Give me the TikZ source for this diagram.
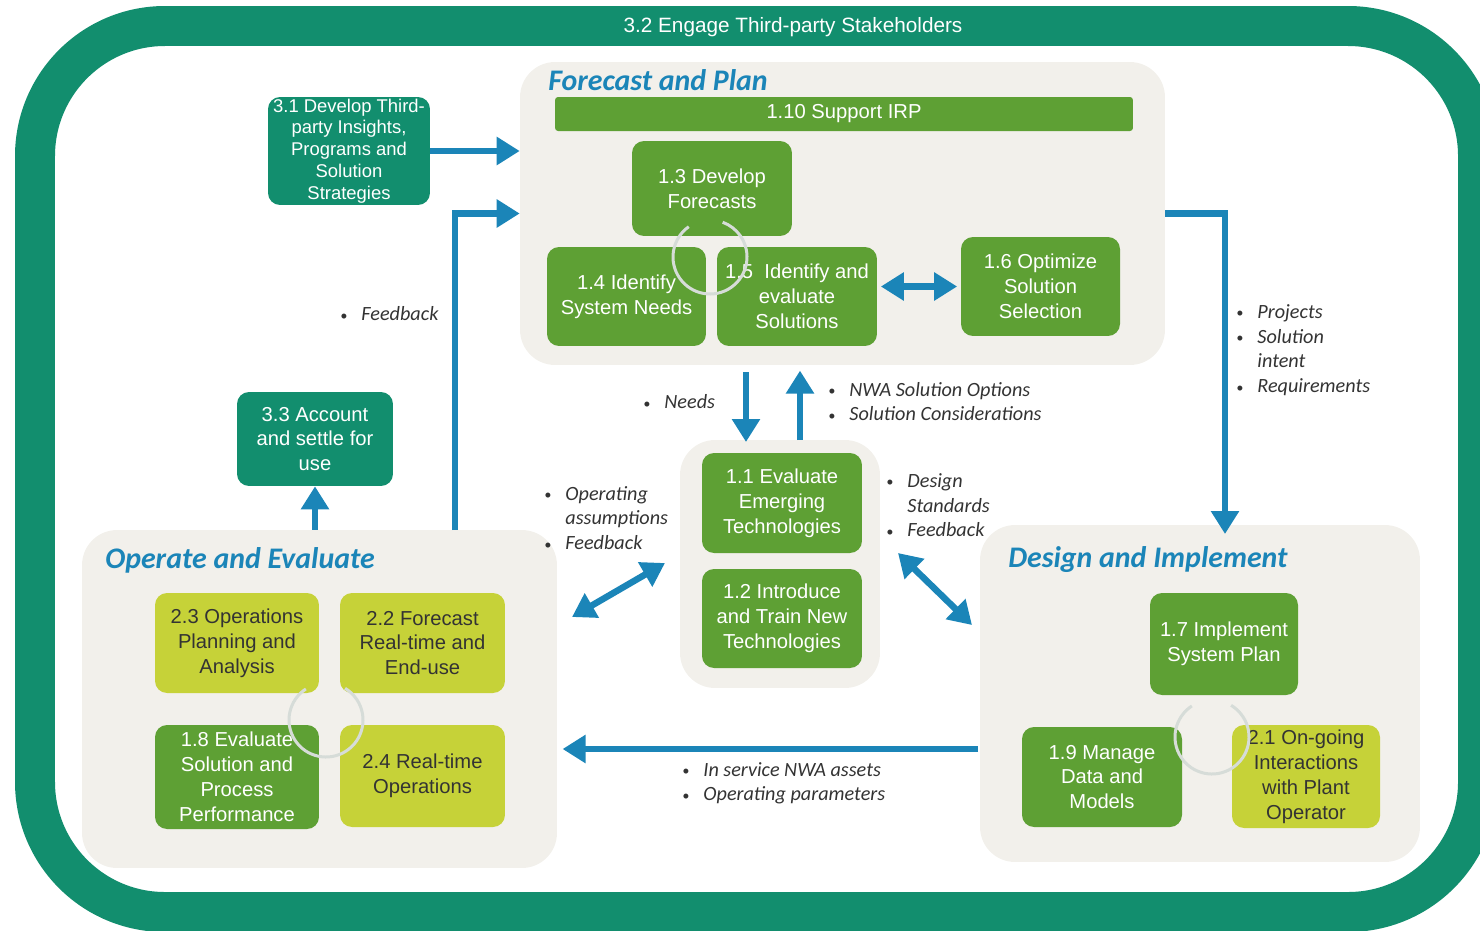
\documentclass[tikz,border=0pt]{standalone}
\usepackage{fontspec}
\setmainfont{Liberation Sans}
\newfontfamily\notefont{Carlito}
\usepackage{tikz}
\usetikzlibrary{arrows.meta}

\definecolor{staketeal}{RGB}{18,142,110}
\definecolor{taskgreen}{RGB}{94,160,52}
\definecolor{tasklime}{RGB}{198,210,56}
\definecolor{flowblue}{RGB}{27,133,184}
\definecolor{panelgray}{RGB}{242,240,235}
\definecolor{notegray}{RGB}{51,51,51}
\definecolor{ringgray}{RGB}{214,220,216}

\newcommand{\dotmark}{\raisebox{0.5pt}{\fontsize{8}{8}\selectfont\textbullet}}

\begin{document}
\begin{tikzpicture}[x = 0.02cm, y = -0.02cm,
		>={Triangle[length = 0.46cm, width = 0.54cm]},
		panel/.style = {fill = panelgray, rounded corners = 0.7cm, inner sep = 0pt},
		size/.style 2 args = {minimum width = #1cm, minimum height = #2cm},
		task/.style = {fill = taskgreen, text = white, rounded corners = 0.24cm, align = center, inner sep = 0pt, font = \fontsize{11.5}{14.2}\selectfont},
		lime/.style = {task, fill = tasklime, text = notegray},
		third/.style = {task, fill = staketeal},
		flow/.style = {draw = flowblue, line width = 0.13cm},
		cycle/.style = {draw = ringgray, line width = 0.06cm},
		note/.style = {text = notegray, inner sep = 0pt, font = \notefont\itshape\fontsize{11.5}{14.2}\selectfont},
		heading/.style = {text = flowblue, anchor = west, inner sep = 0pt, font = \notefont\bfseries\itshape\fontsize{17}{20}\selectfont}
	]
		
		\useasboundingbox (0, 0) rectangle (1480, 930);
		
		\draw[staketeal, line width = 0.8cm, rounded corners = 2.6cm] (35, 26) rectangle (1478, 912);
		\node[text = white, font = \fontsize{11.8}{14}\selectfont] (engage) at (793, 27) {3.2 Engage Third-party Stakeholders};
		
		\node[panel, size = {12.9}{6.06}] (plan) at (842.5, 213.5) {};
		\node[panel, size = {4}{4.96}] (centre) at (780, 564) {};
		\node[panel, size = {9.5}{6.76}] (operate) at (319.5, 699) {};
		\node[panel, size = {8.8}{6.74}] (design) at (1200, 693.5) {};
		
		\node[heading] (plantitle) at (548, 80) {Forecast and Plan};
		\node[heading] (operatetitle) at (105, 560) {Operate and Evaluate};
		\node[heading] (designtitle) at (1008, 560) {Design and Implement};
		
		\node[task, size = {11.56}{0.68}, rounded corners = 0.06cm] (irp) at (844, 114) {1.10 Support IRP};
		\node[task, size = {3.2}{1.9}] (forecasts) at (712, 188.5) {1.3 Develop\\Forecasts};
		\node[task, size = {3.18}{1.98}] (needs) at (626.5, 296.5) {1.4 Identify\\System Needs};
		\node[task, size = {3.2}{1.98}] (solutions) at (797, 296.5) {1.5\ \ Identify and\\evaluate\\Solutions};
		\node[task, size = {3.18}{1.98}] (optimize) at (1040.5, 286.5) {1.6 Optimize\\Solution\\Selection};
		
		\node[third, size = {3.24}{2.16}, font = \fontsize{10.5}{12.4}\selectfont] (insights) at (349, 151) {3.1 Develop Third-\\party Insights,\\Programs and\\Solution\\Strategies};
		\node[third, size = {3.12}{1.88}] (account) at (315, 439) {3.3 Account\\and settle for\\use};
		
		\node[task, size = {3.2}{2}] (emerging) at (782, 503) {1.1 Evaluate\\Emerging\\Technologies};
		\node[task, size = {3.2}{1.98}] (introduce) at (782, 618.5) {1.2 Introduce\\and Train New\\Technologies};
		
		\node[lime, size = {3.28}{2}] (opsplan) at (237, 643) {2.3 Operations\\Planning and\\Analysis};
		\node[lime, size = {3.3}{2}] (realforecast) at (422.5, 643) {2.2 Forecast\\Real-time and\\End-use};
		\node[task, size = {3.28}{2.08}] (performance) at (237, 777) {1.8 Evaluate\\Solution and\\Process\\Performance};
		\node[lime, size = {3.3}{2.04}] (realtime) at (422.5, 776) {2.4 Real-time\\Operations};
		
		\node[task, size = {2.96}{2.04}] (implement) at (1224, 644) {1.7 Implement\\System Plan};
		\node[task, size = {3.2}{2}] (models) at (1102, 777) {1.9 Manage\\Data and\\Models};
		\node[lime, size = {2.96}{2.06}] (ongoing) at (1306, 776.5) {2.1 On-going\\Interactions\\with Plant\\Operator};
		
		\draw[cycle] (710, 257) ++(235:37) arc[start angle = 235, end angle = -70, radius = 37];
		\draw[cycle] (326, 720) ++(237:37) arc[start angle = 237, end angle = -59, radius = 37];
		\draw[cycle] (1212, 737) ++(237:37) arc[start angle = 237, end angle = -59, radius = 37];
		
		\coordinate (feedback) at (455, 530);
		\coordinate (projects) at (1225, 534);
		\coordinate (needsin) at (746, 442);
		\coordinate (optionsout) at (800, 440);
		\coordinate (operateend) at (572, 617);
		\coordinate (centreleft) at (665, 563);
		\coordinate (centreright) at (898, 553);
		\coordinate (designend) at (972, 625);
		\coordinate (inservice) at (978, 749);
		
		\draw[flow, ->] (insights.east) -- (insights.east -| plan.west);
		\draw[flow, ->] (feedback) |- (plan.west);
		\draw[flow, ->] (plan.east) -| (projects);
		\draw[flow, ->, shorten <= 4pt] (plan.south -| needsin) -- (needsin);
		\draw[flow, ->, shorten >= 3pt] (optionsout) -- (plan.south -| optionsout);
		\draw[flow, <->, shorten <= 2pt, shorten >= 2pt] (optimize.west -| solutions.east) -- (optimize.west);
		\draw[flow, <->] (operateend) -- (centreleft);
		\draw[flow, <->] (centreright) -- (designend);
		\draw[flow, ->, shorten >= 3pt] (inservice) -- (inservice -| operate.east);
		\draw[flow, ->] (operate.north -| account.south) -- (account.south);
		
		\node[note, anchor = west] (fbnote) at (340, 314) {\dotmark\hspace{8pt}Feedback};
		\node[note, anchor = west] (needsnote) at (643, 402) {\dotmark\hspace{8pt}Needs};
		\node[note, anchor = west] (optionsnote) at (828, 403.5) {\begin{tabular}{@{}l@{\hspace{8pt}}l@{}}\dotmark & NWA Solution Options\\ \dotmark & Solution Considerations\end{tabular}};
		\node[note, anchor = west] (projectsnote) at (1236, 350.5) {\begin{tabular}{@{}l@{\hspace{8pt}}l@{}}\dotmark & Projects\\ \dotmark & Solution\\ & intent\\ \dotmark & Requirements\end{tabular}};
		\node[note, anchor = west] (assumptionsnote) at (544, 520) {\begin{tabular}{@{}l@{\hspace{8pt}}l@{}}\dotmark & Operating\\ & assumptions\\ \dotmark & Feedback\end{tabular}};
		\node[note, anchor = west] (standardsnote) at (886, 507) {\begin{tabular}{@{}l@{\hspace{8pt}}l@{}}\dotmark & Design\\ & Standards\\ \dotmark & Feedback\end{tabular}};
		\node[note, anchor = west] (servicenote) at (682, 783.5) {\begin{tabular}{@{}l@{\hspace{8pt}}l@{}}\dotmark & In service NWA assets\\ \dotmark & Operating parameters\end{tabular}};
		
	\end{tikzpicture}
\end{document}
